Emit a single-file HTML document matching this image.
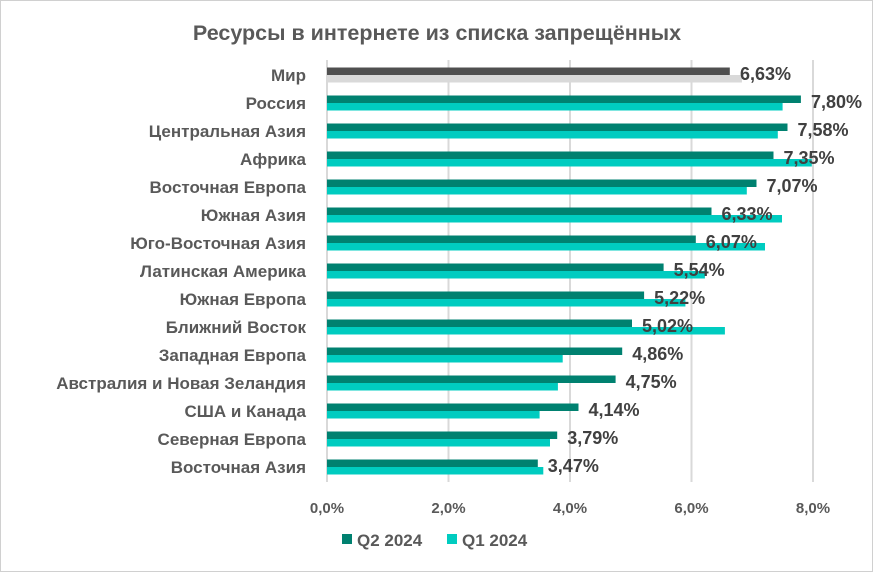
<!DOCTYPE html><html><head><meta charset="utf-8"><style>body{margin:0;background:#fff}</style></head><body>
<svg width="873" height="572" xmlns="http://www.w3.org/2000/svg" font-family="Liberation Sans, sans-serif" font-weight="bold">
<rect x="0.5" y="0.5" width="872" height="571" fill="#fff" stroke="#d0d0d0"/>
<text x="437" y="40" text-anchor="middle" font-size="21.5" fill="#595959">Ресурсы в интернете из списка запрещённых</text>
<g stroke="#d9d9d9" stroke-width="2">
<line x1="327" y1="60" x2="327" y2="482"/><line x1="448.5" y1="60" x2="448.5" y2="482"/><line x1="570" y1="60" x2="570" y2="482"/><line x1="691.5" y1="60" x2="691.5" y2="482"/><line x1="813" y1="60" x2="813" y2="482"/>
</g>
<g>
<rect x="327" y="67.5" width="402.8" height="7.5" fill="#505050"/><rect x="327" y="75" width="414.9" height="7.5" fill="#d9d9d9"/>
<rect x="327" y="95.5" width="473.9" height="7.5" fill="#008170"/><rect x="327" y="103" width="455.6" height="7.5" fill="#00CCC0"/>
<rect x="327" y="123.5" width="460.5" height="7.5" fill="#008170"/><rect x="327" y="131" width="450.8" height="7.5" fill="#00CCC0"/>
<rect x="327" y="151.5" width="446.5" height="7.5" fill="#008170"/><rect x="327" y="159" width="484.8" height="7.5" fill="#00CCC0"/>
<rect x="327" y="179.5" width="429.5" height="7.5" fill="#008170"/><rect x="327" y="187" width="419.8" height="7.5" fill="#00CCC0"/>
<rect x="327" y="207.5" width="384.5" height="7.5" fill="#008170"/><rect x="327" y="215" width="455.0" height="7.5" fill="#00CCC0"/>
<rect x="327" y="235.5" width="368.8" height="7.5" fill="#008170"/><rect x="327" y="243" width="438.0" height="7.5" fill="#00CCC0"/>
<rect x="327" y="263.5" width="336.6" height="7.5" fill="#008170"/><rect x="327" y="271" width="377.9" height="7.5" fill="#00CCC0"/>
<rect x="327" y="291.5" width="317.1" height="7.5" fill="#008170"/><rect x="327" y="299" width="358.4" height="7.5" fill="#00CCC0"/>
<rect x="327" y="319.5" width="305.0" height="7.5" fill="#008170"/><rect x="327" y="327" width="397.9" height="7.5" fill="#00CCC0"/>
<rect x="327" y="347.5" width="295.2" height="7.5" fill="#008170"/><rect x="327" y="355" width="235.7" height="7.5" fill="#00CCC0"/>
<rect x="327" y="375.5" width="288.6" height="7.5" fill="#008170"/><rect x="327" y="383" width="230.9" height="7.5" fill="#00CCC0"/>
<rect x="327" y="403.5" width="251.5" height="7.5" fill="#008170"/><rect x="327" y="411" width="212.6" height="7.5" fill="#00CCC0"/>
<rect x="327" y="431.5" width="230.2" height="7.5" fill="#008170"/><rect x="327" y="439" width="223.0" height="7.5" fill="#00CCC0"/>
<rect x="327" y="459.5" width="210.8" height="7.5" fill="#008170"/><rect x="327" y="467" width="216.3" height="7.5" fill="#00CCC0"/>
</g>
<g font-size="17" fill="#595959" text-anchor="end">
<text x="306" y="81">Мир</text><text x="306" y="109">Россия</text><text x="306" y="137">Центральная Азия</text><text x="306" y="165">Африка</text><text x="306" y="193">Восточная Европа</text><text x="306" y="221">Южная Азия</text><text x="306" y="249">Юго-Восточная Азия</text><text x="306" y="277">Латинская Америка</text><text x="306" y="305">Южная Европа</text><text x="306" y="333">Ближний Восток</text><text x="306" y="361">Западная Европа</text><text x="306" y="389">Австралия и Новая Зеландия</text><text x="306" y="417">США и Канада</text><text x="306" y="445">Северная Европа</text><text x="306" y="473">Восточная Азия</text>
</g>
<g font-size="18" fill="#404040">
<text x="740" y="80">6,63%</text><text x="811" y="108">7,80%</text><text x="797.5" y="136">7,58%</text><text x="783.5" y="164">7,35%</text><text x="766.5" y="192">7,07%</text><text x="721.5" y="220">6,33%</text><text x="705.8" y="248">6,07%</text><text x="673.6" y="276">5,54%</text><text x="654.1" y="304">5,22%</text><text x="642" y="332">5,02%</text><text x="632.2" y="360">4,86%</text><text x="625.6" y="388">4,75%</text><text x="588.5" y="416">4,14%</text><text x="567.2" y="444">3,79%</text><text x="547.8" y="472">3,47%</text>
</g>
<g font-size="15" fill="#595959" text-anchor="middle">
<text x="327" y="513">0,0%</text><text x="448.5" y="513">2,0%</text><text x="570" y="513">4,0%</text><text x="691.5" y="513">6,0%</text><text x="813" y="513">8,0%</text>
</g>
<rect x="342" y="534" width="10" height="10" fill="#008170"/><text x="357" y="546" font-size="17" fill="#595959">Q2 2024</text>
<rect x="447" y="534" width="10" height="10" fill="#00CCC0"/><text x="462" y="546" font-size="17" fill="#595959">Q1 2024</text>
</svg></body></html>
